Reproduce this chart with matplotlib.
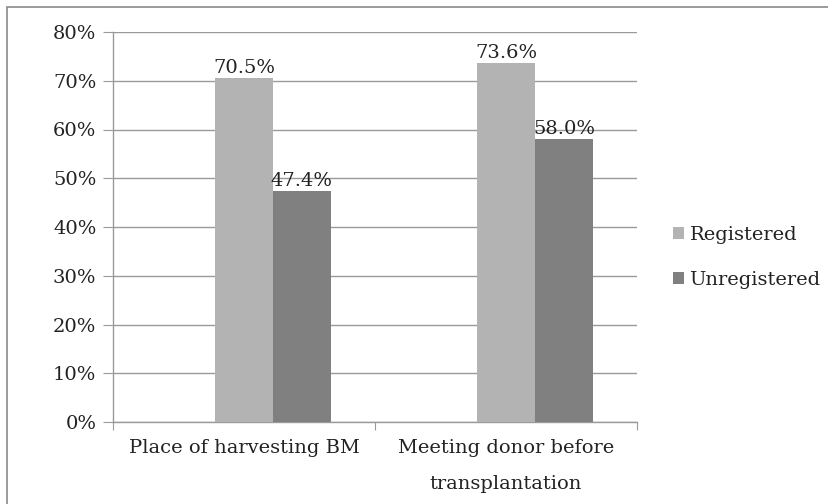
import matplotlib
matplotlib.use("Agg")
import matplotlib.pyplot as plt
from matplotlib.patches import Rectangle
import numpy as np

categories = ["Place of harvesting BM", "Meeting donor before\ntransplantation"]
series_names = ["Registered", "Unregistered"]
registered = [70.5, 73.6]
unregistered = [47.4, 58.0]
yticks = [0, 10, 20, 30, 40, 50, 60, 70, 80]

plt.rcParams['font.family'] = ['DejaVu Serif']
FS = 14

fig = plt.figure(figsize=(8.29, 5.04), dpi=100)
fig.patches.append(Rectangle((7/829, -0.1), 1.2, (504-7)/504 + 0.1, transform=fig.transFigure,
                             fill=False, edgecolor='#8a8a8a', linewidth=1.2, zorder=0))
ax = fig.add_axes([113/829, (504-422)/504, (637-113)/829, (422-32)/504])

w = 0.221
x = np.arange(len(categories))
c_reg = '#b3b3b3'
c_unreg = '#808080'
b1 = ax.bar(x, registered, w, color=c_reg, label=series_names[0], zorder=3)
b2 = ax.bar(x + w, unregistered, w, color=c_unreg, label=series_names[1], zorder=3)

for bars, vals in ((b1, registered), (b2, unregistered)):
    for b, v in zip(bars, vals):
        ax.annotate(f"{v:.1f}%", (b.get_x() + b.get_width()/2, v), xytext=(0, 1),
                    textcoords='offset points', ha='center', va='bottom', fontsize=FS, color='#222222')

ax.set_xlim(-0.5, 1.5)
ax.set_ylim(0, 80)
ax.set_yticks(yticks)
ax.set_yticklabels([f"{t}%" for t in yticks], fontsize=FS, color='#222222')
ax.yaxis.grid(True, color='#9a9a9a', linewidth=1.0, zorder=0)
ax.tick_params(axis='y', length=7, color='#9a9a9a', pad=5)

ax.set_xticks([-0.5, 0.5, 1.5])
ax.set_xticklabels([])
ax.set_xticks(x, minor=True)
ax.set_xticklabels(categories, minor=True, fontsize=FS, color='#222222', linespacing=2.25)
ax.tick_params(axis='x', which='major', length=6, color='#9a9a9a')
ax.tick_params(axis='x', which='minor', length=0, pad=12.5)

for s in ['top', 'right']:
    ax.spines[s].set_visible(False)
for s in ['left', 'bottom']:
    ax.spines[s].set_color('#9a9a9a')
    ax.spines[s].set_linewidth(1.0)

leg = ax.legend(loc='center left', bbox_to_anchor=(1.05, 0.422), frameon=False, fontsize=FS,
                handlelength=0.55, handleheight=0.55, handletextpad=0.3, labelspacing=1.4,
                borderpad=0)
for t in leg.get_texts():
    t.set_color('#222222')

fig.savefig("out.png", dpi=100)
